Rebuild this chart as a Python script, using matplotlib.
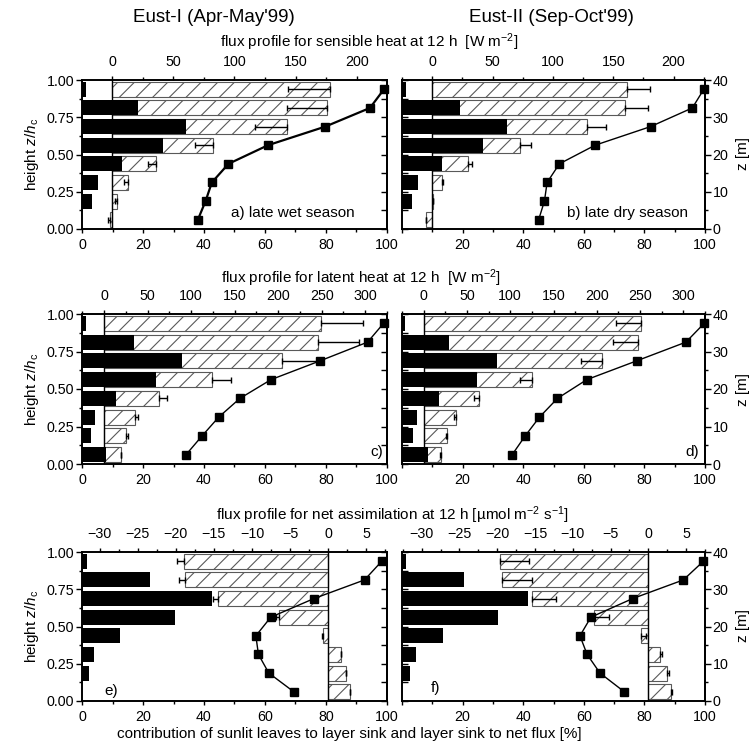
import matplotlib
matplotlib.use('Agg')
import matplotlib.pyplot as plt
import numpy as np
from matplotlib.ticker import MultipleLocator, FormatStrFormatter

plt.rcParams['font.family'] = ['Liberation Sans', 'DejaVu Sans']
plt.rcParams['mathtext.fontset'] = 'custom'
plt.rcParams['mathtext.rm'] = 'Liberation Sans'
plt.rcParams['mathtext.it'] = 'Liberation Sans:italic'
plt.rcParams['hatch.linewidth'] = 0.8
plt.rcParams['axes.linewidth'] = 1.2

# layer centres (z/hc), 8 layers from top to bottom
z_layer = [0.9375, 0.8125, 0.6875, 0.5625, 0.4375, 0.3125, 0.1875, 0.0625]

# a) sensible heat, Eust-I
sunlit_a = [1.4, 18.5, 34.1, 26.5, 13.1, 5.1, 3.3, 0.0]
layer_a = [178, 175.5, 142.7, 82.6, 35.6, 12.8, 4.1, -1.9]
err_a = [34, 33, 26, 15, 6, 3, 2, 1]
prof_a = [222, 210.6, 174.2, 127.4, 95.1, 81.5, 76.4, 70.1]

# b) sensible heat, Eust-II
sunlit_b = [1.4, 19.2, 34.6, 26.8, 13.2, 5.2, 3.4, 0.0]
layer_b = [161.5, 159.6, 128.4, 72.5, 29.6, 8.3, 0.5, -5.3]
err_b = [19, 19, 16, 9, 3, 1, 0, 0]
prof_b = [225, 215.5, 181, 135, 105.4, 95.2, 93, 88.2]

# c) latent heat, Eust-I
sunlit_c = [1.3, 17.0, 32.7, 24.4, 11.0, 4.4, 3.1, 7.9]
layer_c = [249, 245.7, 204.4, 123.6, 63.1, 35.6, 25.3, 18.8]
err_c = [48, 47, 40, 22, 9, 3.4, 2.3, 0]
prof_c = [321, 302.7, 248, 191.7, 156, 131.6, 112.5, 94.1]

# d) latent heat, Eust-II
sunlit_d = [1.1, 15.6, 31.2, 24.7, 12.1, 4.9, 3.5, 8.5]
layer_d = [250.8, 248, 206, 125, 63.5, 37, 26.5, 19.6]
err_d = [29, 29, 24, 14, 5, 2, 1, 0.5]
prof_d = [324, 303, 246, 188.5, 154.6, 133.8, 117.3, 102.3]

# e) net assimilation, Eust-I
sunlit_e = [1.6, 22.2, 42.6, 30.5, 12.4, 3.9, 2.3, 0.0]
layer_e = [-18.97, -18.75, -14.5, -6.45, -0.7, 1.7, 2.35, 2.8]
err_e = [0.87, 0.87, 0.65, 0.35, 0.17, 0, 0, 0]
prof_e = [7.0, 4.75, -1.88, -7.54, -9.5, -9.16, -7.8, -4.54]

# f) net assimilation, Eust-II
sunlit_f = [1.4, 20.5, 41.5, 31.6, 13.5, 4.6, 2.7, 0.0]
layer_f = [-19.6, -19.3, -15.35, -7.2, -1.0, 1.55, 2.5, 2.95]
err_f = [3.8, 3.9, 3.1, 1.95, 0.65, 0.26, 0.18, 0.18]
prof_f = [7.28, 4.63, -2.07, -7.6, -9.05, -8.1, -6.4, -3.2]

fig = plt.figure(figsize=(7.51, 7.45), dpi=100)

W, H = 751.0, 745.0
TS = 10.3   # tick label size
LS = 11     # label size


def draw_panel(box, flim, fmaj, fmin, sunlit, layer, err, err_left, prof,
               right_col, tag, tag_xy, lw_prof):
    x0, y0, x1, y1 = box
    ax = fig.add_axes([x0 / W, 1 - y1 / H, (x1 - x0) / W, (y1 - y0) / H])
    pct = ax.twiny()

    # flux axis (top): hatched layer bars, errors, profile
    ax.barh(z_layer, layer, height=0.1, color='white', edgecolor='0.35',
            hatch='//', linewidth=0.8, zorder=2)
    if err_left:
        xerr = [err, [0] * len(err)]
    else:
        xerr = [[0] * len(err), err]
    ax.errorbar(layer, z_layer, xerr=xerr, fmt='none', ecolor='black',
                elinewidth=1, capsize=2.5, capthick=1, zorder=3)
    ax.axvline(0, color='black', lw=1, zorder=3)
    ax.plot(prof, z_layer, '-s', color='black', ms=5.5, lw=lw_prof,
            clip_on=False, zorder=4)
    ax.set_xlim(flim)
    ax.set_ylim(0, 1)
    ax.xaxis.tick_top()
    ax.xaxis.set_label_position('top')
    ax.xaxis.set_major_locator(MultipleLocator(fmaj))
    ax.xaxis.set_minor_locator(MultipleLocator(fmin))
    ax.tick_params(axis='x', which='major', direction='out', length=3, width=1,
                   labelsize=TS, pad=5)
    ax.tick_params(axis='x', which='minor', direction='out', length=2, width=1)

    # percentage axis (bottom): sunlit contribution
    pct.barh(z_layer, sunlit, height=0.1, color='black', zorder=2)
    pct.set_xlim(0, 100)
    pct.xaxis.tick_bottom()
    pct.xaxis.set_label_position('bottom')
    pct.set_xticks([0, 20, 40, 60, 80, 100])
    if right_col:
        pct.set_xticklabels(['', '20', '40', '60', '80', '100'])
    pct.xaxis.set_minor_locator(MultipleLocator(10))
    pct.tick_params(axis='x', which='major', direction='out', length=3, width=1,
                    labelsize=TS, pad=3.5)
    pct.tick_params(axis='x', which='minor', direction='out', length=2, width=1)

    ax.yaxis.set_major_locator(MultipleLocator(0.25))
    ax.yaxis.set_minor_locator(MultipleLocator(0.125))
    ax.yaxis.set_major_formatter(FormatStrFormatter('%.2f'))
    if right_col:
        ax.tick_params(axis='y', which='both', direction='in', length=4, width=1,
                       labelleft=False)
        sec = ax.secondary_yaxis('right', functions=(lambda y: y * 40, lambda z: z / 40))
        sec.yaxis.set_major_locator(MultipleLocator(10))
        sec.yaxis.set_minor_locator(MultipleLocator(5))
        sec.tick_params(axis='y', which='major', direction='out', length=4, width=1,
                        labelsize=TS, pad=1.5)
        sec.tick_params(axis='y', which='minor', direction='out', length=2.5, width=1)
        sec.spines['right'].set_linewidth(1.2)
    else:
        ax.tick_params(axis='y', which='major', direction='out', length=4, width=1,
                       labelsize=TS, pad=1.5)
        ax.tick_params(axis='y', which='minor', direction='out', length=2.5, width=1)
        sec = ax.secondary_yaxis('right')
        sec.set_yticks(np.arange(0, 1.01, 0.125))
        sec.tick_params(axis='y', direction='in', length=4, width=1, labelright=False)
        sec.spines['right'].set_linewidth(1.2)
        ax.set_ylabel('height $z$/$h_\\mathrm{c}$', fontsize=LS, labelpad=4)

    ax.text(tag_xy[0], tag_xy[1], tag, transform=ax.transAxes, fontsize=LS,
            ha=tag_xy[2], va='center')
    return ax


draw_panel((82, 80, 387, 229), (-24.5, 224.5), 50, 25, sunlit_a, layer_a, err_a, True,
           prof_a, False, 'a) late wet season', (0.895, 0.105, 'right'), 1.6)
draw_panel((402, 80, 705, 229), (-25, 226), 50, 25, sunlit_b, layer_b, err_b, False,
           prof_b, True, 'b) late dry season', (0.944, 0.105, 'right'), 1.0)
draw_panel((82, 314, 387, 464), (-25.5, 325), 50, 25, sunlit_c, layer_c, err_c, False,
           prof_c, False, 'c)', (0.965, 0.08, 'center'), 1.0)
draw_panel((402, 314, 705, 464), (-25, 325), 50, 25, sunlit_d, layer_d, err_d, True,
           prof_d, True, 'd)', (0.957, 0.08, 'center'), 1.0)
draw_panel((82, 552, 387, 701), (-32.3, 7.7), 5, 2.5, sunlit_e, layer_e, err_e, True,
           prof_e, False, 'e)', (0.096, 0.07, 'center'), 1.0)
draw_panel((402, 552, 705, 701), (-32.6, 7.5), 5, 2.5, sunlit_f, layer_f, err_f, False,
           prof_f, True, 'f)', (0.109, 0.087, 'center'), 1.0)

fig.text(214 / W, 1 - 18 / H, "Eust-I (Apr-May'99)", ha='center', va='center', fontsize=13.5)
fig.text(551 / W, 1 - 18 / H, "Eust-II (Sep-Oct'99)", ha='center', va='center', fontsize=13.5)
fig.text(369 / W, 1 - 42 / H, 'flux profile for sensible heat at 12 h  [W m$^{-2}$]',
         ha='center', va='center', fontsize=LS)
fig.text(361 / W, 1 - 278 / H, 'flux profile for latent heat at 12 h  [W m$^{-2}$]',
         ha='center', va='center', fontsize=LS)
fig.text(392 / W, 1 - 515 / H, 'flux profile for net assimilation at 12 h [µmol m$^{-2}$ s$^{-1}$]',
         ha='center', va='center', fontsize=LS)
fig.text(349 / W, 1 - 738 / H,
         'contribution of sunlit leaves to layer sink and layer sink to net flux [%]',
         ha='center', va='baseline', fontsize=LS)
for yc in [154, 389, 626]:
    fig.text(743 / W, 1 - yc / H, 'z [m]', rotation=90, ha='center', va='center', fontsize=LS)

fig.savefig('out.png', dpi=100)
